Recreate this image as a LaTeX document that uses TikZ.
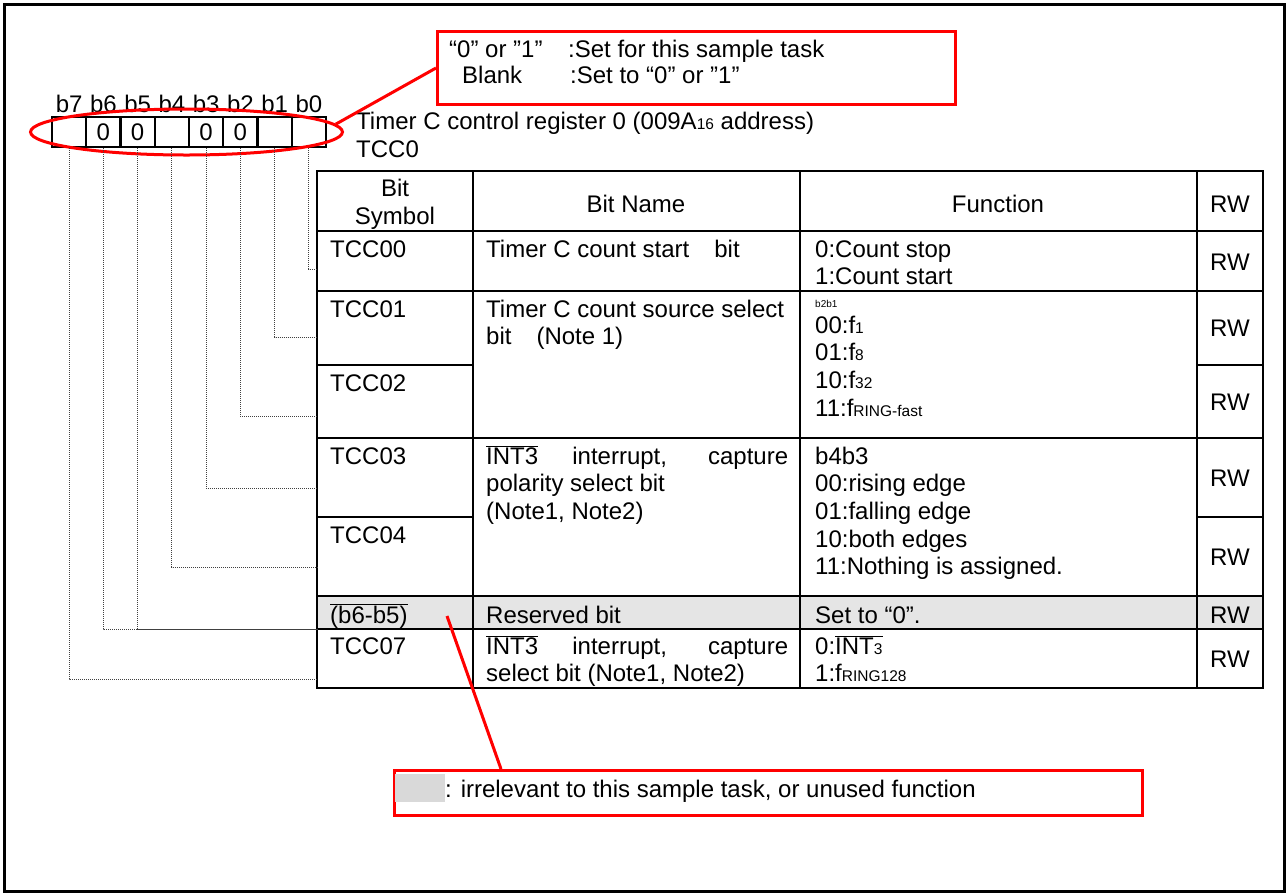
\documentclass[tikz,border=0pt]{standalone}
\usepackage{fontspec}
\setmainfont{Liberation Sans}
\usepackage{tikz}
\usetikzlibrary{shapes.geometric}

\newcommand{\ovl}[1]{$\overline{\mbox{#1}}$}
\newcommand{\lsub}[1]{{\fontsize{15.5}{15.5}\selectfont #1}}

\tikzset{
  txt/.style={anchor=base west,inner sep=0pt,align=left,font=\fontsize{24}{27.7}\selectfont},
  mid/.style={anchor=base,inner sep=0pt,align=center,font=\fontsize{24}{27.7}\selectfont},
  bitcell/.style={draw,line width=2pt,minimum width=34.25pt,minimum height=30pt,inner sep=0pt,font=\fontsize{24}{27.7}\selectfont},
  redbox/.style={draw=red,line width=3pt,inner sep=0pt,anchor=north west},
  redline/.style={draw=red,line width=3pt},
  leader/.style={line width=1pt,black!75,dash pattern=on 1pt off 1pt},
  rule/.style={line width=2.3pt},
}

\begin{document}
\begin{tikzpicture}[x=1pt,y=-1pt]
\useasboundingbox (0,0) rectangle (1288,895);
\draw[line width=3pt] (4,4) rectangle (1284,891);

% register bits
\node (l7) at (69.1,112) [mid] {b7};
\node (l6) at (103.4,112) [mid] {b6};
\node (l5) at (137.6,112) [mid] {b5};
\node (l4) at (171.9,112) [mid] {b4};
\node (l3) at (206.1,112) [mid] {b3};
\node (l2) at (240.4,112) [mid] {b2};
\node (l1) at (274.6,112) [mid] {b1};
\node (l0) at (308.9,112) [mid] {b0};
\node (c7) at (69.1,132) [bitcell] {};
\node (c6) at (103.4,132) [bitcell] {0};
\node (c5) at (137.6,132) [bitcell] {0};
\node (c4) at (171.9,132) [bitcell] {};
\node (c3) at (206.1,132) [bitcell] {0};
\node (c2) at (240.4,132) [bitcell] {0};
\node (c1) at (274.6,132) [bitcell] {};
\node (c0) at (308.9,132) [bitcell] {};
\node (regoval) at (186.5,132) [ellipse,draw=red,line width=3pt,minimum width=312pt,minimum height=46pt] {};

\node (title) at (356,129) [txt] {Timer C control register 0 (009A\lsub{16} address)};
\node (tcc0) at (356,157) [txt] {TCC0};

% note box
\node (setbox) at (436,30) [redbox,minimum width=518pt,minimum height=73pt] {};
\node (set1a) at (449,57) [txt] {“0” or ”1”};
\node (set1b) at (568,57) [txt] {:Set for this sample task};
\node (set2a) at (462,83) [txt] {Blank};
\node (set2b) at (570,83) [txt] {:Set to “0” or ”1”};
\draw[redline] (regoval.3) -- (setbox.west);

% table
\fill[black!10] (317,596) rectangle (1263,629);
\draw[rule] (317,171) rectangle (1263,688);
\draw[rule] (473,171) -- (473,688);
\draw[rule] (800,171) -- (800,688);
\draw[rule] (1197,171) -- (1197,688);
\draw[rule] (317,231) -- (1263,231);
\draw[rule] (317,291) -- (1263,291);
\draw[rule] (317,365) -- (473,365);
\draw[rule] (1197,365) -- (1263,365);
\draw[rule] (317,438) -- (1263,438);
\draw[rule] (317,517) -- (473,517);
\draw[rule] (1197,517) -- (1263,517);
\draw[rule] (317,596) -- (1263,596);
\draw[rule] (317,629) -- (1263,629);

% multi-line texts sit on their last baseline
\node (hsym) at (395,224) [mid] {Bit\\Symbol};
\node (hname) at (636,212) [mid] {Bit Name};
\node (hfunc) at (998,212) [mid] {Function};
\node (hrw) at (1230,212) [mid] {RW};

\node (s0) at (330,257) [txt] {TCC00};
\node (s1) at (330,317) [txt] {TCC01};
\node (s2) at (330,391) [txt] {TCC02};
\node (s3) at (330,464) [txt] {TCC03};
\node (s4) at (330,543) [txt] {TCC04};
\node (s56) at (330,623) [txt] {\ovl{(b6-b5)}};
\node (s7) at (330,654) [txt] {TCC07};

\node (n0) at (486,257) [txt] {Timer C count start\hspace{25pt}bit};
\node (n12) at (486,344.7) [txt] {Timer C count source select\\bit\hspace{25pt}(Note 1)};
\node (n34) at (486,519.4) [txt] {\makebox[302pt][s]{\ovl{INT3} interrupt, capture}\\polarity select bit\\(Note1, Note2)};
\node (n56) at (486,623) [txt] {Reserved bit};
\node (n7) at (486,681.7) [txt] {\makebox[302pt][s]{\ovl{INT3} interrupt, capture}\\select bit (Note1, Note2)};

\node (f0) at (815,284.7) [txt] {0:Count stop\\1:Count start};
\node (f12h) at (815,307) [txt,font=\fontsize{10}{10}\selectfont] {b2b1};
\node (f12) at (815,416.1) [txt] {00:f\lsub{1}\\01:f\lsub{8}\\10:f\lsub{32}\\11:f\lsub{RING-fast}};
\node (f34) at (815,574.8) [txt] {b4b3\\00:rising edge\\01:falling edge\\10:both edges\\11:Nothing is assigned.};
\node (f56) at (815,623) [txt] {Set to “0”.};
\node (f7) at (815,681.7) [txt] {0:\ovl{INT\lsub{3}}\\1:f\lsub{RING128}};

\node (r0) at (1230,270) [mid] {RW};
\node (r1) at (1230,336) [mid] {RW};
\node (r2) at (1230,410) [mid] {RW};
\node (r3) at (1230,486) [mid] {RW};
\node (r4) at (1230,565) [mid] {RW};
\node (r56) at (1230,623) [mid] {RW};
\node (r7) at (1230,667) [mid] {RW};

% leaders
\coordinate (t0) at (317,269);
\coordinate (t1) at (317,337);
\coordinate (t2) at (317,416);
\coordinate (t3) at (317,488);
\coordinate (t4) at (317,567);
\coordinate (t5) at (317,629);
\coordinate (t7) at (317,679);
\draw[leader] (c0.south) |- (t0);
\draw[leader] (c1.south) |- (t1);
\draw[leader] (c2.south) |- (t2);
\draw[leader] (c3.south) |- (t3);
\draw[leader] (c4.south) |- (t4);
\draw[leader] (c5.south) |- (t5);
\draw[leader] (c6.south) |- (t5);
\draw[leader] (c7.south) |- (t7);

% legend
\node (legend) at (393,769) [redbox,minimum width=748pt,minimum height=45pt] {};
\node (graykey) at (395,774) [anchor=north west,fill=black!15,minimum width=50pt,minimum height=28pt,inner sep=0pt] {};
\node (legtext) at (445,797) [txt] {: irrelevant to this sample task, or unused function};
\coordinate (resv) at (447,616);
\draw[redline] (resv) -- ([xshift=108pt]legend.north west);
\end{tikzpicture}
\end{document}
